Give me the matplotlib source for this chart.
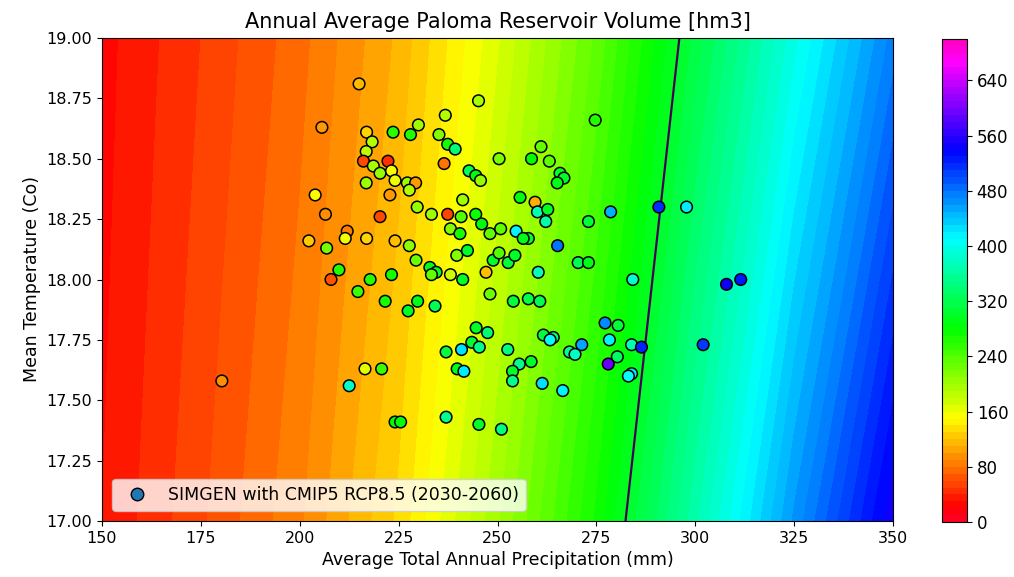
import numpy as np
import matplotlib
matplotlib.use("Agg")
import matplotlib.pyplot as plt
from matplotlib.lines import Line2D

# ---- background surface ----
grid_precip = [150, 175, 200, 225, 250, 275, 300, 325, 350]
grid_temp = [17.0, 19.0]
volume_t17 = [30, 58, 88, 132, 198, 272, 367, 462, 548]
volume_t19 = [26, 50, 76, 112, 168, 232, 313, 396, 474]
threshold_level = [300]

# ---- SIMGEN points: precipitation, temperature, simulated volume ----
pt_precip = [215.0, 205.6, 216.9, 218.3, 216.8, 216.1, 218.6, 220.3, 222.3, 216.8,
             223.6, 245.2, 236.8, 230.0, 228.0, 235.2, 237.4, 239.3, 236.5, 242.8,
             244.5, 245.7, 250.4, 261.0, 258.6, 263.1, 265.8, 266.8, 265.1, 223.2,
             224.1, 227.2, 229.3, 274.7, 203.9, 206.5, 220.3, 212.0, 211.5, 202.3,
             216.9, 206.8, 209.9, 207.9, 217.8, 214.7, 221.6, 222.8, 227.7, 229.7,
             233.3, 237.4, 240.8, 241.2, 244.5, 246.0, 238.1, 240.5, 248.1, 250.8,
             255.7, 259.5, 260.1, 262.7, 262.2, 254.7, 257.8, 256.5, 265.2, 224.1,
             227.7, 229.4, 239.7, 242.4, 248.9, 250.4, 252.7, 254.4, 232.9, 234.5,
             233.3, 238.1, 241.2, 247.1, 223.2, 260.3, 248.1, 229.8, 234.2, 227.4,
             254.0, 257.8, 260.7, 290.8, 297.8, 278.6, 273.0, 270.4, 273.0, 284.2,
             307.9, 311.5, 180.3, 212.5, 216.5, 220.7, 244.6, 247.5, 243.5, 245.4,
             240.9, 237.0, 252.6, 261.6, 264.1, 263.3, 239.8, 241.5, 255.5, 258.5,
             253.8, 253.8, 261.3, 266.5, 224.1, 225.5, 237.0, 245.3, 251.0, 277.2,
             280.5, 278.3, 283.9, 286.4, 271.3, 268.2, 269.6, 280.3, 278.0, 283.9,
             283.1, 302.0]
pt_temp = [18.81, 18.63, 18.61, 18.57, 18.53, 18.49, 18.47, 18.44, 18.49, 18.40,
           18.61, 18.74, 18.68, 18.64, 18.60, 18.60, 18.56, 18.54, 18.48, 18.45,
           18.43, 18.41, 18.50, 18.55, 18.50, 18.49, 18.44, 18.42, 18.40, 18.45,
           18.41, 18.40, 18.40, 18.66, 18.35, 18.27, 18.26, 18.20, 18.17, 18.16,
           18.17, 18.13, 18.04, 18.00, 18.00, 17.95, 17.91, 18.35, 18.37, 18.30,
           18.27, 18.27, 18.26, 18.33, 18.27, 18.23, 18.21, 18.19, 18.19, 18.21,
           18.34, 18.32, 18.28, 18.29, 18.24, 18.20, 18.17, 18.17, 18.14, 18.16,
           18.14, 18.08, 18.10, 18.12, 18.08, 18.11, 18.07, 18.10, 18.05, 18.03,
           18.02, 18.02, 18.00, 18.03, 18.02, 18.03, 17.94, 17.91, 17.89, 17.87,
           17.91, 17.92, 17.91, 18.30, 18.30, 18.28, 18.24, 18.07, 18.07, 18.00,
           17.98, 18.00, 17.58, 17.56, 17.63, 17.63, 17.80, 17.78, 17.74, 17.72,
           17.71, 17.70, 17.71, 17.77, 17.76, 17.75, 17.63, 17.62, 17.65, 17.66,
           17.62, 17.58, 17.57, 17.54, 17.41, 17.41, 17.43, 17.40, 17.38, 17.82,
           17.81, 17.75, 17.73, 17.72, 17.73, 17.70, 17.69, 17.68, 17.65, 17.61,
           17.60, 17.73]
pt_volume = [115, 100, 130, 190, 185, 60, 195, 205, 45, 200,
             260, 195, 190, 200, 265, 215, 270, 340, 80, 320,
             285, 205, 220, 230, 280, 235, 300, 300, 290, 155,
             160, 200, 100, 265, 150, 95, 60, 85, 160, 125,
             130, 220, 265, 65, 260, 250, 270, 100, 190, 205,
             200, 55, 240, 200, 275, 285, 215, 270, 230, 235,
             285, 110, 370, 300, 365, 415, 300, 290, 480, 120,
             210, 225, 215, 300, 300, 240, 310, 300, 290, 300,
             230, 175, 300, 120, 270, 375, 225, 290, 320, 300,
             310, 315, 320, 515, 420, 450, 310, 320, 290, 385,
             545, 525, 95, 380, 165, 250, 300, 340, 305, 350,
             425, 310, 345, 310, 345, 410, 290, 420, 350, 300,
             300, 350, 425, 415, 280, 285, 350, 300, 345, 470,
             310, 415, 370, 520, 455, 350, 380, 330, 590, 420,
             410, 510]

cbar_ticks = [0, 80, 160, 240, 320, 400, 480, 560, 640]
x_ticks = [150, 175, 200, 225, 250, 275, 300, 325, 350]
y_ticks = [17.00, 17.25, 17.50, 17.75, 18.00, 18.25, 18.50, 18.75, 19.00]

levels = np.arange(0, 701, 10)
cmap = plt.get_cmap("gist_rainbow")

fig = plt.figure(figsize=(10.14, 5.77), dpi=100)
ax = fig.add_axes([102/1014, 56/577, 791/1014, 483/577])
cax = fig.add_axes([942/1014, 55/577, 25/1014, 483/577])

Z = np.array([volume_t17, volume_t19])
cf = ax.contourf(grid_precip, grid_temp, Z, levels=levels, cmap=cmap)
ax.contour(grid_precip, grid_temp, Z, levels=threshold_level,
           colors=["#440154"], linewidths=1.6)

sc = ax.scatter(pt_precip, pt_temp, c=pt_volume, cmap=cmap, vmin=0, vmax=700,
                s=70, edgecolors="black", linewidths=1.1, zorder=3)

ax.set_xlim(150, 350)
ax.set_ylim(17, 19)
ax.set_xticks(x_ticks)
ax.set_yticks(y_ticks)
ax.set_yticklabels([f"{v:.2f}" for v in y_ticks])
ax.tick_params(labelsize=11.5)
ax.set_xlabel("Average Total Annual Precipitation (mm)", fontsize=12.5)
ax.set_ylabel("Mean Temperature (Co)", fontsize=12.5)
ax.set_title("Annual Average Paloma Reservoir Volume [hm3]", fontsize=15, pad=7)

handle = Line2D([], [], linestyle="none", marker="o", markersize=9,
                markerfacecolor="#1f77b4", markeredgecolor="black")
ax.legend([handle], ["SIMGEN with CMIP5 RCP8.5 (2030-2060)"], loc="lower left",
          fontsize=12.5, borderaxespad=0.6)

cb = fig.colorbar(cf, cax=cax, ticks=cbar_ticks)
cb.ax.tick_params(labelsize=12)

fig.savefig("out.png", dpi=100)
